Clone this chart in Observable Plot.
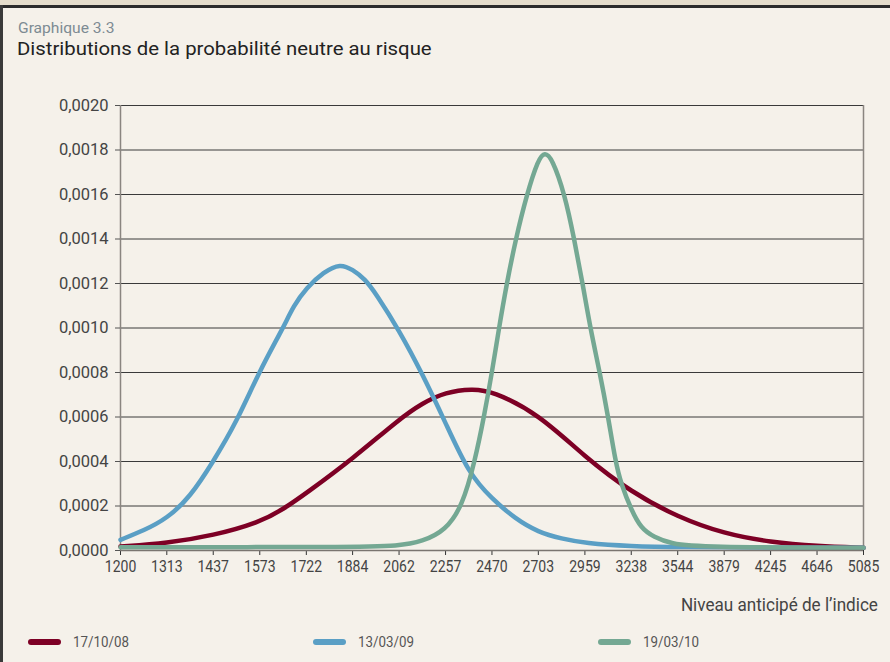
<!DOCTYPE html>
<html>
<head>
<meta charset="utf-8">
<script src="https://cdn.jsdelivr.net/npm/d3@7"></script>
<script src="https://cdn.jsdelivr.net/npm/@observablehq/plot@0.6"></script>
<style>
  html, body { margin: 0; padding: 0; }
  body { width: 890px; height: 662px; background: #f5f1ea; position: relative; overflow: hidden; font-family: Roboto, "DejaVu Sans", sans-serif; }
  .abs { position: absolute; }
  #strip { left: 0; top: 0; width: 890px; height: 5px; background: #e4dccb; }
  #topline { left: 0; top: 5px; width: 890px; height: 2.5px; background: #2b2b2b; }
  #leftline { left: 0; top: 5px; width: 2.5px; height: 657px; background: #3a3a3a; }
  #kicker { left: 18px; top: 21px; font-size: 15px; color: #7d8b93; line-height: 1; transform: scaleX(1.04); transform-origin: left; }
  #title { left: 17px; top: 38.5px; font-size: 19px; color: #222; line-height: 1; transform: scaleX(1.07); transform-origin: left; }
  #chart { left: 0; top: 0; }
  #xlabel { right: 12px; top: 595px; font-size: 19px; color: #444; line-height: 1; transform: scaleX(0.9); transform-origin: right; }
  .leg { top: 633px; height: 18px; display: flex; align-items: center; font-size: 15.5px; color: #555; }
  .sw { width: 33px; height: 6px; border-radius: 3px; margin-right: 12px; }
  .legtxt { display: inline-block; transform: scaleX(0.86); transform-origin: left; }
</style>
</head>
<body>
<div class="abs" id="strip"></div>
<div class="abs" id="topline"></div>
<div class="abs" id="leftline"></div>
<div class="abs" id="kicker">Graphique 3.3</div>
<div class="abs" id="title">Distributions de la probabilité neutre au risque</div>
<div class="abs" id="chart"></div>
<div class="abs" id="xlabel">Niveau anticipé de l’indice</div>
<div id="legend"></div>
<script>
// ---- Data ----
const xTicks = [1200, 1313, 1437, 1573, 1722, 1884, 2062, 2257, 2470, 2703, 2959, 3238, 3544, 3879, 4245, 4646, 5085];
const yTicks = [0, 0.0002, 0.0004, 0.0006, 0.0008, 0.0010, 0.0012, 0.0014, 0.0016, 0.0018, 0.0020];

const seriesNames = ["17/10/08", "13/03/09", "19/03/10"];
const seriesColors = ["#7d0025", "#5a9fc5", "#74a893"];

// 17/10/08
const redX = [1200, 1313, 1437, 1573, 1646, 1722, 1884, 2062, 2157, 2257, 2378, 2470, 2703, 2959, 3238, 3544, 3879, 4245, 4646, 5085];
const redY = [0.000018, 0.000033, 0.000067, 0.000127, 0.000185, 0.000258, 0.000412, 0.000590, 0.000662, 0.000712, 0.000727, 0.000717, 0.000615, 0.000420, 0.000262, 0.000150, 0.000075, 0.000037, 0.000019, 0.000012];

// 13/03/09
const blueX = [1200, 1256, 1313, 1374, 1437, 1503, 1573, 1646, 1680, 1722, 1781, 1840, 1884, 1930, 1971, 2062, 2157, 2257, 2361, 2470, 2584, 2703, 2828, 2959, 3238, 3544, 4245, 5085];
const blueY = [0.000048, 0.000090, 0.000143, 0.000240, 0.000400, 0.000575, 0.000810, 0.001000, 0.001100, 0.001180, 0.001252, 0.001290, 0.001262, 0.001220, 0.001155, 0.000990, 0.000795, 0.000574, 0.000345, 0.000232, 0.000143, 0.000082, 0.000053, 0.000033, 0.000019, 0.000015, 0.000013, 0.000012];

// 19/03/10
const greenX = [1200, 1884, 2062, 2157, 2257, 2332, 2389, 2432, 2470, 2504, 2542, 2587, 2643, 2703, 2737, 2775, 2846, 2898, 2946, 2990, 3046, 3096, 3140, 3174, 3240, 3300, 3384, 3499, 3700, 5085];
const greenY = [0.000015, 0.000015, 0.000020, 0.000040, 0.000090, 0.000200, 0.000400, 0.000600, 0.000800, 0.001000, 0.001200, 0.001400, 0.001600, 0.001760, 0.001790, 0.001765, 0.001600, 0.001400, 0.001200, 0.001000, 0.000800, 0.000600, 0.000400, 0.000300, 0.000180, 0.000100, 0.000060, 0.000030, 0.000015, 0.000012];

const toRows = (xs, ys, name) => xs.map((x, i) => ({x, y: ys[i], s: name}));
const rows = [
  ...toRows(redX, redY, seriesNames[0]),
  ...toRows(blueX, blueY, seriesNames[1]),
  ...toRows(greenX, greenY, seriesNames[2])
];

const fmtY = d => d.toFixed(4).replace(".", ",");

const chart = Plot.plot({
  width: 890,
  height: 600,
  marginLeft: 120,
  marginRight: 27,
  marginTop: 105,
  marginBottom: 50,
  style: {background: "transparent", fontFamily: "Roboto, sans-serif", color: "#444", overflow: "visible"},
  x: {type: "log", domain: [1200, 5085]},
  y: {domain: [0, 0.002]},
  color: {domain: seriesNames, range: seriesColors},
  marks: [
    Plot.ruleY(yTicks.slice(1), {stroke: "#3a3a3a", strokeWidth: 1}),
    Plot.ruleX([1200], {stroke: "#8a8580", strokeWidth: 1.5}),
    Plot.ruleX([5085], {stroke: "#8a8580", strokeWidth: 1.5}),
    Plot.axisY({ticks: yTicks, tickFormat: fmtY, tickSize: 5, tickPadding: 7, fontSize: 16.5, label: null, stroke: "#555", fill: "#444"}),
    Plot.axisX({ticks: xTicks, tickFormat: d => String(d), tickSize: 5, tickPadding: 5, fontSize: 16.5, label: null, stroke: "#333", fill: "#444"}),
    Plot.line(rows, {x: "x", y: "y", z: "s", stroke: "s", strokeWidth: 4.5, curve: "basis", strokeLinecap: "round", strokeLinejoin: "round"}),
    Plot.ruleY([0], {stroke: "#7a7570", strokeWidth: 1.5})
  ]
});
document.getElementById("chart").appendChild(chart);

// condense the x tick labels like the original narrow typeface
chart.querySelectorAll('g[aria-label="x-axis tick label"] text').forEach(t => {
  t.setAttribute("transform", (t.getAttribute("transform") || "") + " scale(0.85,1)");
});

// Legend
const legendLefts = [28, 313, 598];
const legend = document.getElementById("legend");
seriesNames.forEach((n, i) => {
  const d = document.createElement("div");
  d.className = "abs leg";
  d.style.left = legendLefts[i] + "px";
  d.innerHTML = `<span class="sw" style="background:${seriesColors[i]}"></span><span class="legtxt">${n}</span>`;
  legend.appendChild(d);
});
</script>
</body>
</html>
